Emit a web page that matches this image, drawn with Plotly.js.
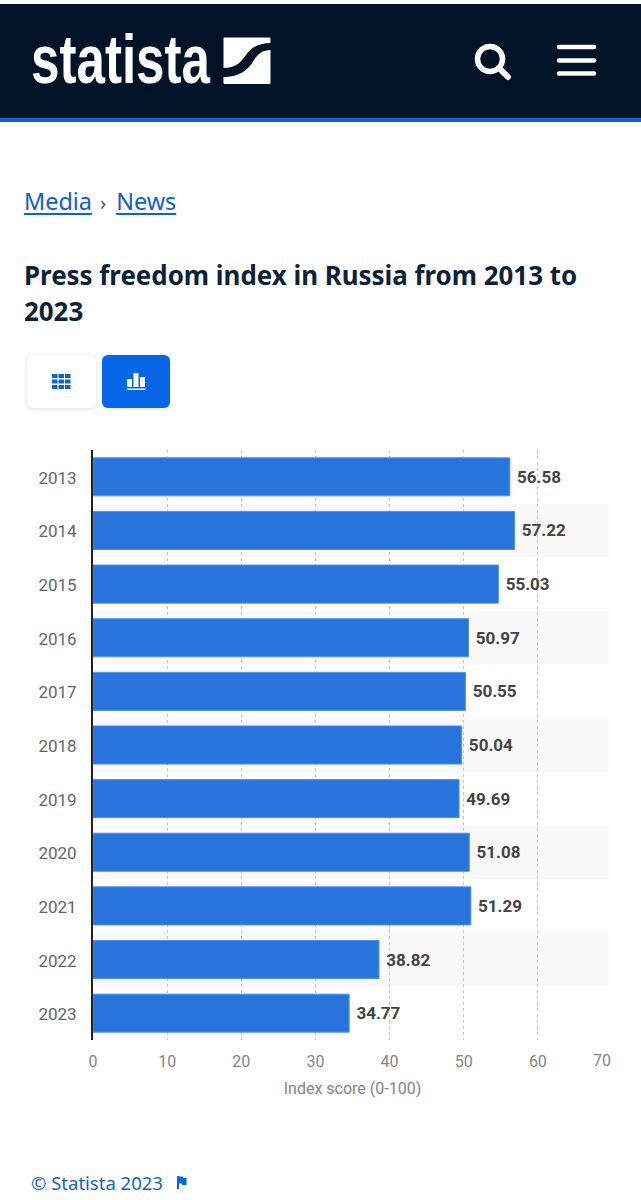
<!DOCTYPE html>
<html>
<head>
<meta charset="utf-8">
<script src="https://cdn.plot.ly/plotly-3.0.1.min.js"></script>
<style>
html,body{margin:0;padding:0;background:#fff;width:641px;height:1200px;overflow:hidden}
#chart{position:absolute;left:0;top:0;width:641px;height:1200px}
.abs{position:absolute}
#crumbs{left:24px;top:185px;font:23.4px/32px "Noto Sans",sans-serif;color:#0f62c6;white-space:nowrap}
#crumbs u{text-underline-offset:3px;text-decoration-thickness:1.5px}
#crumbs span{color:#555;font-size:20px;margin:0 10px 0 8px}
#copy{left:31px;top:1170px;font:18.500px/26px "Noto Sans",sans-serif;color:#1463c4;white-space:nowrap}
</style>
</head>
<body>
<div id="chart"></div>
<svg class="abs" style="left:0;top:0" width="641" height="125" viewBox="0 0 641 125">
  <rect x="0" y="4" width="641" height="114" fill="#001327"/>
  <rect x="0" y="118" width="641" height="4" fill="#0f62d6"/>
  <text transform="translate(31,83) scale(1,1.42)" fill="#fff" font-family="Liberation Sans" font-weight="700" font-size="48" textLength="179" lengthAdjust="spacingAndGlyphs">statista</text>
  <rect x="223.500" y="37.500" width="47" height="46.500" rx="1" fill="#fff"/>
  <path d="M223 68 C236 68 241 62 246 55 C251 48 258 43 271 43 L271 50 C262 50 258 54 254 60 C248 71 238 77 223 77Z" fill="#001327"/>
  <circle cx="490" cy="59" r="12.500" fill="none" stroke="#fff" stroke-width="5.500"/>
  <line x1="499" y1="68" x2="508" y2="77" stroke="#fff" stroke-width="6" stroke-linecap="round"/>
  <g stroke="#fff" stroke-width="4.500" stroke-linecap="round">
    <line x1="559" y1="47" x2="594" y2="47"/>
    <line x1="559" y1="60.500" x2="594" y2="60.500"/>
    <line x1="559" y1="73.500" x2="594" y2="73.500"/>
  </g>
</svg>
<div id="crumbs" class="abs"><u>Media</u><span>›</span><u>News</u></div>
<div class="abs" style="left:27px;top:355px;width:69px;height:53px;background:#fff;border-radius:6px;box-shadow:0 1px 5px rgba(0,0,0,.14)"></div>
<div class="abs" style="left:102px;top:355px;width:68px;height:53px;background:#0666e5;border-radius:6px;box-shadow:0 1px 4px rgba(0,0,0,.12)"></div>
<svg class="abs" style="left:27px;top:355px" width="150" height="53" viewBox="0 0 150 53">
  <g fill="#0f62d0">
    <rect x="25" y="19" width="5.500" height="4"/><rect x="31.500" y="19" width="5.500" height="4"/><rect x="38" y="19" width="5.500" height="4"/>
    <rect x="25" y="24.500" width="5.500" height="4"/><rect x="31.500" y="24.500" width="5.500" height="4"/><rect x="38" y="24.500" width="5.500" height="4"/>
    <rect x="25" y="30" width="5.500" height="4"/><rect x="31.500" y="30" width="5.500" height="4"/><rect x="38" y="30" width="5.500" height="4"/>
  </g>
  <g fill="#fff">
    <rect x="100" y="24" width="5" height="8"/><rect x="106.500" y="18" width="5" height="14"/><rect x="113" y="22" width="5" height="10"/>
    <rect x="100" y="33.500" width="18.500" height="1.500"/>
  </g>
</svg>
<div id="copy" class="abs">© Statista 2023</div>
<svg class="abs" style="left:176px;top:1175px" width="12" height="15" viewBox="0 0 12 15">
  <path d="M1 1 H3 V14 H1Z M3 1.500 H6.500 L7.500 3 H10.500 V10 H6.500 L5.500 8.500 H3Z" fill="#0666e5"/>
</svg>
<script>
var categories = ["2013","2014","2015","2016","2017","2018","2019","2020","2021","2022","2023"];
var seriesValues = [56.58,57.22,55.03,50.97,50.55,50.04,49.69,51.08,51.29,38.82,34.77];
var tickValues = [0,10,20,30,40,50,60,70];
var tickLabels = ["0","10","20","30","40","50","60","70"];
var titleLines = ["Press freedom index in Russia from 2013 to","2023"];
var axisTitle = "Index score (0-100)";

var axisMax = tickValues[tickValues.length-1];
var stripes = [];
categories.forEach(function(c,i){
  if(i%2===1){
    stripes.push({type:"rect",layer:"below",xref:"x2",yref:"y",x0:0,x1:axisMax,y0:i-0.5,y1:i+0.5,fillcolor:"#f9f9f9",line:{width:0}});
  }
});

var trace = {
  type:"bar",orientation:"h",xaxis:"x2",yaxis:"y",
  y:categories,x:seriesValues,
  marker:{color:"#2874dc",line:{color:"#4f94ea",width:1}},
  text:seriesValues.map(function(v){return "\u00a0"+v.toFixed(2);}),
  textposition:"outside",
  textfont:{family:"Roboto",size:17,color:"#444444",weight:700},
  constraintext:"none",
  cliponaxis:false,
  hoverinfo:"skip"
};
var gridCarrier = {type:"scatter",mode:"none",x:[0,axisMax],y:[categories[0],categories[categories.length-1]],xaxis:"x",yaxis:"y",hoverinfo:"skip",showlegend:false};

var layout = {
  width:641,height:1200,
  margin:{l:93,r:29,t:450,b:160,pad:0},
  paper_bgcolor:"rgba(0,0,0,0)",plot_bgcolor:"rgba(0,0,0,0)",
  showlegend:false,bargap:0.29,
  font:{family:"Roboto"},
  title:{
    text:"<b>"+titleLines.join("<br>")+"</b>",
    font:{family:"Noto Sans",size:25.9,color:"#0b2239"},
    xref:"container",yref:"container",x:24/641,xanchor:"left",y:1-285/1200,yanchor:"top",
    automargin:false
  },
  xaxis:{
    range:[0,axisMax],
    tickmode:"array",tickvals:tickValues,
    ticktext:tickLabels.map(function(t,i){return i===tickLabels.length-1?"":t;}),
    tickfont:{family:"Roboto",size:16,color:"#858585"},
    ticks:"",ticklabelstandoff:10,
    showgrid:true,gridcolor:"#c4c4c4",griddash:"dot",gridwidth:1,
    zeroline:false,showline:false,
    title:{text:axisTitle,font:{family:"Roboto",size:16,color:"#858585"},standoff:12}
  },
  xaxis2:{overlaying:"x",side:"bottom",range:[0,70.45],visible:false,showgrid:false,zeroline:false},
  yaxis:{
    type:"category",categoryorder:"array",categoryarray:categories,autorange:false,range:[categories.length-0.5,-0.5],
    tickfont:{family:"Roboto",size:17,color:"#666666"},
    ticks:"",ticklabelstandoff:11,ticklabelshift:-1,
    showgrid:false,zeroline:false,
    showline:true,linecolor:"#222222",linewidth:2
  },
  shapes:stripes,
  annotations:[{
    xref:"x",yref:"paper",x:axisMax,y:0,xanchor:"center",yanchor:"top",xshift:-10,yshift:-9,
    text:tickLabels[tickLabels.length-1],showarrow:false,
    font:{family:"Roboto",size:16,color:"#858585"}
  }]
};
Plotly.newPlot("chart",[gridCarrier,trace],layout,{displayModeBar:false,staticPlot:true}).then(function(gd){
  var lines = gd.querySelectorAll(".gtitle tspan.line");
  if(lines.length>1){ lines[1].setAttribute("dy","36"); }
});
</script>
</body>
</html>
